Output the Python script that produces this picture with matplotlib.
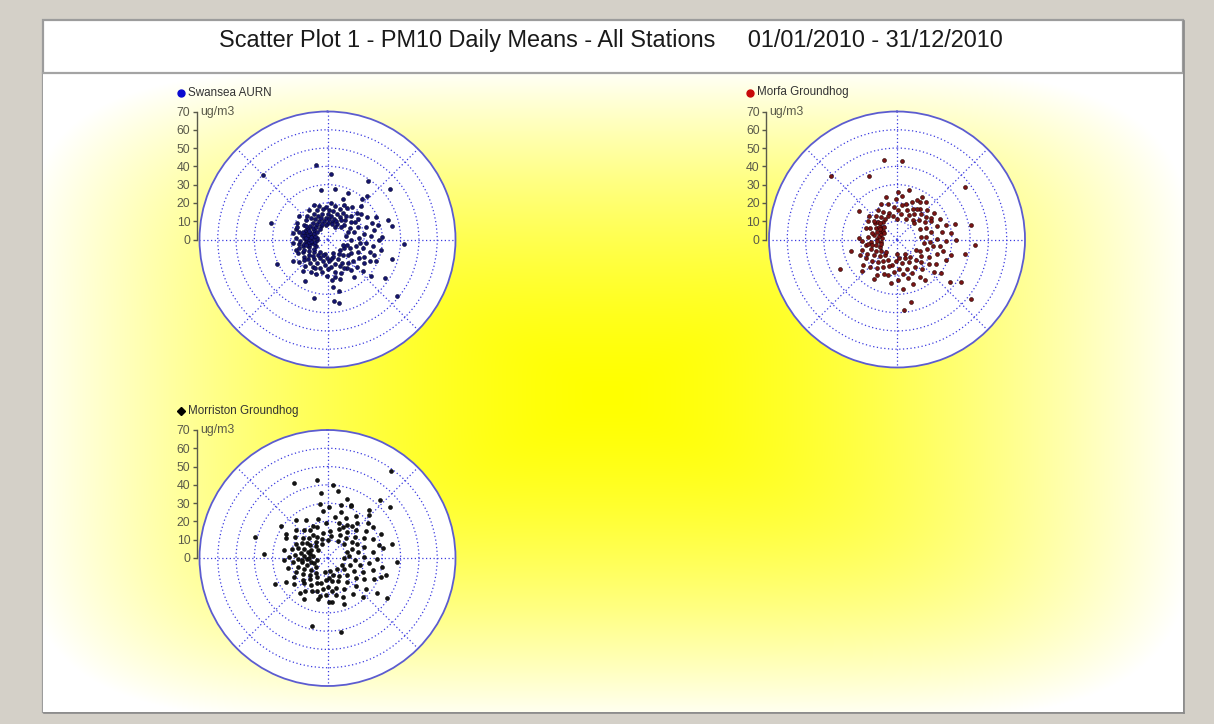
import matplotlib.pyplot as plt
import numpy as np
from matplotlib.patches import Rectangle

# PM10 daily means for 2010: (wind direction in degrees, concentration in ug/m3)
SWANSEA_AURN = [
    (351, 41), (3, 36), (35, 39), (51, 44), (353, 27), (8, 28), (24, 28), (42, 32),
    (41, 29), (315, 50), (286, 32), (72, 35), (78, 36), (93, 42), (107, 37), (124, 38),
    (129, 49), (244, 31), (208, 26), (193, 33), (174, 22), (174, 34), (170, 35), (167, 29),
    (173, 26), (130, 31), (65, 29), (70, 26),
    (350, 10), (355, 12), (0, 14), (5, 11), (10, 16), (352, 17), (358, 18), (3, 9),
    (8, 13), (12, 19), (348, 14), (355, 8), (2, 16), (6, 20), (13, 10), (346, 19),
    (18, 12), (20, 15), (22, 18), (25, 11), (28, 14), (30, 17), (32, 20), (35, 13),
    (38, 16), (17, 9), (26, 21), (33, 10), (21, 24), (37, 22), (29, 8),
    (42, 14), (45, 18), (48, 22), (50, 12), (53, 16), (56, 20), (60, 25), (63, 14),
    (45, 26), (58, 18), (47, 10), (52, 23),
    (68, 18), (72, 22), (75, 15), (78, 26), (82, 20), (85, 24), (88, 17), (90, 28),
    (92, 13), (95, 21), (98, 25), (70, 12), (80, 10), (87, 30), (96, 18), (74, 29),
    (102, 16), (104, 20), (106, 24), (108, 27), (110, 13), (112, 18), (115, 22), (117, 26),
    (119, 15), (121, 20), (123, 24), (105, 11), (114, 29), (118, 10), (101, 30), (111, 9),
    (127, 14), (130, 18), (133, 22), (136, 12), (139, 17), (142, 21), (145, 25), (148, 15),
    (131, 26), (140, 10), (146, 19), (128, 9),
    (152, 12), (155, 16), (158, 20), (161, 10), (164, 14), (167, 18), (170, 11), (173, 15),
    (156, 8), (162, 23), (168, 21), (150, 18),
    (177, 12), (180, 16), (183, 10), (186, 14), (189, 18), (192, 12), (195, 16), (198, 20),
    (181, 20), (188, 8), (196, 9),
    (202, 11), (205, 14), (208, 17), (211, 10), (214, 13), (217, 16), (220, 19), (223, 12),
    (206, 20), (212, 8), (218, 22), (224, 15), (203, 17),
    (227, 10), (230, 13), (233, 16), (236, 9), (239, 12), (242, 15), (245, 18), (248, 11),
    (232, 20), (240, 7), (246, 14), (228, 17), (238, 22),
    (251, 8), (253, 11), (255, 14), (257, 10), (259, 13), (261, 16), (263, 9), (265, 12),
    (267, 15), (269, 11), (252, 18), (258, 7), (264, 19), (256, 12), (262, 10), (268, 6),
    (254, 16), (266, 9),
    (271, 10), (273, 13), (275, 8), (277, 11), (279, 14), (281, 9), (283, 12), (285, 16),
    (287, 10), (289, 13), (272, 17), (276, 6), (280, 19), (284, 7), (288, 18), (274, 12),
    (278, 9), (282, 11), (286, 14),
    (291, 10), (294, 13), (297, 8), (300, 12), (303, 15), (306, 9), (309, 12), (312, 16),
    (292, 18), (298, 19), (304, 7), (310, 20), (296, 11), (302, 14), (308, 10),
    (317, 9), (320, 12), (323, 15), (326, 10), (329, 13), (332, 16), (335, 11), (338, 14),
    (341, 17), (344, 12), (318, 17), (327, 19), (333, 8), (339, 20), (324, 7), (342, 9),
]

MORFA_GROUNDHOG = [
    (351, 44), (4, 43), (336, 38), (314, 50), (52, 47), (79, 41), (94, 43), (102, 38),
    (129, 37), (124, 42), (129, 52), (167, 35), (174, 39), (173, 27), (243, 35), (256, 26),
    (307, 26), (13, 28), (1, 26),
    (342, 15), (346, 20), (350, 13), (354, 18), (358, 22), (2, 16), (6, 24), (10, 14),
    (14, 20), (18, 17), (345, 24), (0, 11), (8, 19),
    (22, 22), (25, 15), (28, 19), (31, 24), (34, 17), (37, 21), (40, 14), (43, 19),
    (46, 23), (49, 16), (52, 20), (55, 25), (58, 18), (24, 12), (30, 27), (38, 26),
    (45, 13), (57, 22), (33, 20), (27, 24),
    (62, 21), (65, 26), (68, 17), (71, 23), (74, 28), (77, 19), (80, 25), (83, 30),
    (86, 16), (89, 22), (92, 27), (95, 18), (98, 24), (66, 14), (84, 13), (90, 32),
    (75, 33), (97, 15),
    (101, 20), (104, 26), (107, 17), (110, 23), (113, 29), (116, 14), (119, 20), (122, 25),
    (125, 16), (128, 22), (131, 27), (134, 18), (106, 31), (118, 12), (127, 30),
    (137, 15), (140, 21), (143, 12), (146, 18), (149, 24), (152, 14), (155, 20), (158, 11),
    (161, 17), (164, 22), (167, 13), (170, 19), (173, 10), (176, 16), (179, 22), (182, 12),
    (185, 18), (188, 24), (191, 14), (194, 20), (145, 27), (160, 26), (180, 8), (150, 9),
    (197, 15), (200, 20), (203, 12), (206, 17), (209, 22), (212, 14), (215, 19), (218, 11),
    (221, 16), (224, 21), (227, 13), (230, 18), (233, 23), (236, 15), (239, 20), (210, 25),
    (228, 26), (220, 9), (235, 11),
    (241, 13), (244, 18), (247, 10), (250, 15), (253, 20), (256, 12), (259, 17), (262, 9),
    (265, 14), (268, 19), (271, 11), (274, 16), (277, 8), (280, 13), (248, 22), (258, 14),
    (266, 11), (272, 21), (254, 9), (262, 16),
    (282, 10), (285, 14), (288, 9), (291, 12), (294, 16), (297, 10), (300, 13), (303, 9),
    (306, 15), (309, 11), (312, 14), (315, 10), (318, 17), (321, 12), (324, 15), (327, 19),
    (330, 13), (333, 17), (336, 21), (339, 14), (290, 18), (302, 19), (296, 8), (310, 20),
    (305, 12), (315, 13), (300, 11), (308, 16),
]

MORRISTON_GROUNDHOG = [
    (36, 59), (336, 45), (352, 43), (4, 40), (9, 37), (354, 36), (18, 34), (24, 32),
    (42, 43), (51, 44), (41, 35), (78, 36), (93, 38), (106, 33), (124, 39), (170, 41),
    (193, 38), (174, 24), (193, 23), (244, 32), (286, 41), (274, 35), (304, 31), (300, 26),
    (281, 24),
    (342, 18), (346, 22), (350, 14), (354, 26), (358, 19), (2, 28), (6, 15), (10, 23),
    (14, 30), (18, 20), (345, 11), (0, 10), (8, 12), (16, 26), (352, 30),
    (22, 17), (25, 24), (28, 14), (31, 21), (34, 28), (37, 18), (40, 25), (43, 15),
    (46, 22), (49, 29), (52, 19), (55, 26), (58, 16), (24, 31), (32, 11), (44, 33),
    (50, 12), (27, 19), (38, 22), (56, 30),
    (61, 23), (64, 18), (67, 27), (70, 14), (73, 21), (76, 29), (79, 17), (82, 25),
    (85, 12), (88, 20), (91, 27), (94, 15), (97, 23), (66, 32), (80, 31), (90, 9),
    (99, 30), (72, 11),
    (102, 18), (105, 26), (108, 13), (111, 21), (114, 28), (117, 16), (120, 23), (123, 11),
    (126, 19), (129, 27), (132, 14), (135, 22), (138, 29), (141, 17), (144, 24), (147, 12),
    (110, 31), (125, 33), (140, 8), (115, 9),
    (152, 19), (155, 14), (158, 23), (161, 10), (164, 17), (167, 21), (170, 13), (173, 18),
    (176, 11), (179, 16), (182, 20), (185, 12), (188, 17), (191, 21), (194, 14), (197, 19),
    (160, 27), (178, 24), (190, 8), (169, 7),
    (202, 15), (205, 20), (208, 12), (211, 17), (214, 22), (217, 10), (220, 15), (223, 19),
    (226, 13), (229, 18), (232, 23), (235, 11), (238, 16), (241, 21), (244, 14), (247, 19),
    (210, 26), (230, 8), (240, 26), (218, 24),
    (251, 12), (254, 17), (257, 9), (260, 14), (263, 19), (266, 11), (269, 16), (272, 21),
    (275, 13), (278, 8), (281, 15), (284, 20), (287, 11), (256, 22), (262, 6), (268, 24),
    (276, 18), (283, 10), (288, 17), (252, 8), (265, 14), (271, 10),
    (291, 14), (294, 19), (297, 10), (300, 16), (303, 21), (306, 12), (309, 17), (312, 23),
    (315, 9), (318, 15), (321, 20), (324, 11), (327, 18), (330, 24), (333, 13), (336, 19),
    (339, 8), (296, 25), (310, 7), (320, 27), (305, 14), (328, 15),
]

R_MAX = 70
R_TICKS = [0, 10, 20, 30, 40, 50, 60, 70]
TITLE = "Scatter Plot 1 - PM10 Daily Means - All Stations     01/01/2010 - 31/12/2010"

W, H = 1214, 724
FONT = ["Liberation Sans", "DejaVu Sans"]
GRID_BLUE = "#3a3ae0"
RING_BLUE = "#5c5cd0"
AXIS_GREY = "#5a5a4a"

# (label, data, dot colour, dot edge, legend colour, legend marker, centre px)
STATIONS = [
    ("Swansea AURN", SWANSEA_AURN, "#14146e", "#05052e", "#0a0ad0", "o", (327.5, 239.5)),
    ("Morfa Groundhog", MORFA_GROUNDHOG, "#7a1414", "#200000", "#c80a0a", "o", (897.0, 239.5)),
    ("Morriston Groundhog", MORRISTON_GROUNDHOG, "#141414", "#000000", "#000000", "D", (327.5, 558.0)),
]
RADIUS_PX = 128

plt.rcParams["font.family"] = FONT

fig = plt.figure(figsize=(W / 100, H / 100), dpi=100)
fig.patch.set_facecolor("#d4d0c8")

bg = fig.add_axes([0, 0, 1, 1])
bg.set_xlim(0, W)
bg.set_ylim(H, 0)
bg.axis("off")

# panel: white title strip plus the yellow path-gradient backdrop
px0, px1, py0, py1 = 43, 1183, 20, 712
sep_y = 73
bg.add_patch(Rectangle((px0, py0), px1 - px0, py1 - py0, facecolor="white",
                       edgecolor="#9c9c9c", linewidth=1.6, zorder=1))

gx, gy = np.meshgrid(np.arange(px0, px1) + 0.5, np.arange(sep_y, py1) + 0.5)
cxg, cyg = (px0 + px1) / 2 - 5, (sep_y + py1) / 2 + 3
hw, hh = (px1 - px0) / 2, (py1 - sep_y) / 2
p = 5.0
t = ((np.abs(gx - cxg) / hw) ** p + (np.abs(gy - cyg) / hh) ** p) ** (1 / p)
blue = np.clip(t * 0.97, 0, 1) ** 1.55
img = np.dstack([np.ones_like(t), np.ones_like(t), blue])
bg.imshow(img, extent=(px0, px1, py1, sep_y), aspect="auto", interpolation="bilinear", zorder=2)
bg.plot([px0, px1], [sep_y, sep_y], color="#a4a4a4", linewidth=1.6, zorder=3)
bg.plot([px1 + 1, px1 + 1], [py0 + 1, py1 + 1], color="#8a8a8a", linewidth=1.2, zorder=3)
bg.plot([px0 + 1, px1 + 1], [py1 + 1, py1 + 1], color="#8a8a8a", linewidth=1.2, zorder=3)

bg.text((px0 + px1) / 2 - 2, 41, TITLE, ha="center", va="center", fontsize=16.9,
        color="#1a1a1a", zorder=4)

for label, data, dot_c, dot_e, leg_c, leg_m, (cx, cy) in STATIONS:
    arr = np.array(data, dtype=float)
    theta = np.deg2rad(arr[:, 0])
    conc = arr[:, 1]

    r = RADIUS_PX
    ax = fig.add_axes([(cx - r) / W, (H - cy - r) / H, 2 * r / W, 2 * r / H], projection="polar")
    ax.set_facecolor("white")
    ax.set_theta_zero_location("N")
    ax.set_theta_direction(-1)
    ax.set_ylim(0, R_MAX)
    ax.set_rgrids([10, 20, 30, 40, 50, 60], labels=[])
    ax.set_thetagrids(range(0, 360, 45), labels=[])
    ax.grid(True, color=GRID_BLUE, linestyle=(0, (1, 2)), linewidth=0.9)
    ax.tick_params(length=0)
    ax.spines["polar"].set_color(RING_BLUE)
    ax.spines["polar"].set_linewidth(1.3)
    ax.scatter(theta, conc, s=8, c=dot_c, edgecolors=dot_e, linewidths=0.4, zorder=3)

    # concentration scale drawn left of the circle
    ax_x = cx - r - 3
    ax_r = fig.add_axes([ax_x / W, (H - cy) / H, 0.0001, r / H])
    ax_r.set_ylim(0, R_MAX)
    ax_r.patch.set_visible(False)
    for side in ("top", "right", "bottom"):
        ax_r.spines[side].set_visible(False)
    ax_r.spines["left"].set_color(AXIS_GREY)
    ax_r.spines["left"].set_linewidth(1.0)
    ax_r.set_xticks([])
    ax_r.set_yticks(R_TICKS)
    ax_r.tick_params(axis="y", direction="out", length=3, width=1.0, pad=1.5,
                     colors=AXIS_GREY, labelsize=8.8)
    ax_r.annotate("ug/m3", xy=(0, R_MAX), xycoords="data", xytext=(2.5, 0),
                  textcoords="offset points", ha="left", va="center",
                  fontsize=8.8, color=AXIS_GREY, annotation_clip=False)

    # series key above each plot
    ky = cy - 147
    kx = cx - 147
    bg.plot([kx], [ky], marker=leg_m, markersize=5 if leg_m == "o" else 4.2,
            color=leg_c, linestyle="none", zorder=5)
    bg.text(kx + 7, ky, label, ha="left", va="center", fontsize=8.4, color="#333333", zorder=5)

fig.savefig("out.png", dpi=100, facecolor=fig.get_facecolor())
